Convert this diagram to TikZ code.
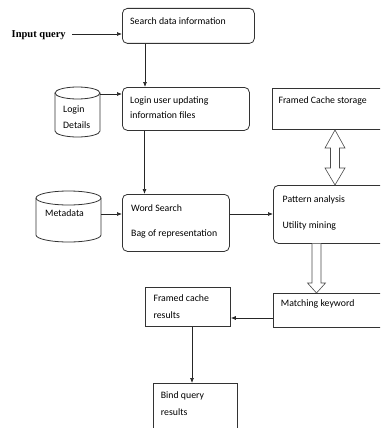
\documentclass[tikz,border=0pt]{standalone}
\usepackage{fontspec}
\setmainfont{Carlito}
\newfontfamily\timesbf{Liberation Serif}
\usetikzlibrary{arrows.meta,calc}
\tikzset{
  box/.style={draw=black!80, line width=0.8pt, anchor=north west, inner sep=0pt},
  rbox/.style={box, rounded corners=5pt},
  txt/.style={anchor=base west, inner sep=0pt, font=\fontsize{9.8pt}{12pt}\selectfont},
  arr/.style={draw=black!85, line width=0.7pt, -{Latex[length=5pt,width=4pt]}},
  hollow/.style={draw=black!70, line width=0.6pt, fill=white},
  cyl/.style={draw=black!80, line width=0.8pt}
}
\begin{document}
\begin{tikzpicture}[x=1pt,y=-1pt]
\useasboundingbox (0,0) rectangle (380,428);
\clip (0,0) rectangle (380,428);
% boxes
\node[rbox, minimum width=132pt, minimum height=35pt] (search) at (122,8) {};
\node[rbox, minimum width=127pt, minimum height=43pt] (login) at (122,87) {};
\node[rbox, minimum width=107pt, minimum height=57pt] (word) at (122,194) {};
\node[rbox, minimum width=112pt, minimum height=58pt] (pattern) at (273,185) {};
\node[box, minimum width=112pt, minimum height=41pt] (storage) at (272,88) {};
\node[box, minimum width=108pt, minimum height=34pt] (match) at (273,293) {};
\node[box, minimum width=85pt, minimum height=39pt] (framed) at (145,287) {};
\node[box, minimum width=84pt, minimum height=60pt] (bind) at (153,383) {};
% cylinders
\node[inner sep=0pt, minimum width=45pt, minimum height=50pt, anchor=north west] (ldet) at (55,87) {};
\draw[cyl] (55,93) -- (55,131) arc[start angle=180, end angle=360, x radius=22.5pt, y radius=6pt] -- (100,93);
\draw[cyl] (77.5,93) ellipse[x radius=22.5pt, y radius=6pt];
\node[inner sep=0pt, minimum width=65pt, minimum height=51pt, anchor=north west] (meta) at (36,191) {};
\draw[cyl] (36,198) -- (36,235) arc[start angle=180, end angle=360, x radius=32.5pt, y radius=7pt] -- (101,198);
\draw[cyl] (68.5,198) ellipse[x radius=32.5pt, y radius=7pt];
% texts
\node[anchor=base west, inner sep=0pt, font=\timesbf\bfseries\fontsize{10.5pt}{12pt}\selectfont] (inq) at (11.5,37.5) {Input query};
\node[txt] (t1) at (130,25) {Search data information};
\node[txt] (t2) at (130,103.5) {Login user updating};
\node[txt] (t3) at (130,118.5) {information files};
\node[txt] (t4) at (63,112.5) {Login};
\node[txt] (t5) at (63,128) {Details};
\node[txt] (t6) at (131,211.5) {Word Search};
\node[txt] (t7) at (131,236.5) {Bag of representation};
\node[txt] (t8) at (45,216.5) {Metadata};
\node[txt] (t9) at (282.5,202.5) {Pattern analysis};
\node[txt] (t10) at (282.5,228.3) {Utility mining};
\node[txt] (t11) at (278.3,103.3) {Framed Cache storage};
\node[txt] (t12) at (280.7,306) {Matching keyword};
\node[txt] (t13) at (153.3,301) {Framed cache};
\node[txt] (t14) at (153.3,318.3) {results};
\node[txt] (t15) at (160.7,398.3) {Bind query};
\node[txt] (t16) at (160.7,415) {results};
% connectors
\coordinate (iq) at (72,34);
\draw[arr] (iq) -- (iq -| search.west);
\draw[arr] ([xshift=23pt]search.south west) -- ([xshift=23pt]login.north west);
\draw[arr] ([yshift=-7pt]ldet.north east) -- ([yshift=-7pt]login.north west);
\draw[arr] ([xshift=22.5pt]login.south west) -- ([xshift=22.5pt]word.north west);
\draw[arr] ([yshift=-23pt]meta.north east) -- ([yshift=-20pt]word.north west);
\draw[arr] ([yshift=-29pt]pattern.north west -| word.east) -- ([yshift=-29pt]pattern.north west);
\draw[arr] ([yshift=-25pt]match.north west) -- ([yshift=-25pt]match.north west -| framed.east);
\draw[arr] ([xshift=47pt]framed.south west) -- ([xshift=39pt]bind.north west);
% hollow arrows
\draw[hollow] (312,243.5) -- (312,283) -- (307.5,283) -- (316.5,293) -- (325.5,283) -- (321,283) -- (321,243.5);
\draw[hollow] (335,130) -- (345,148) -- (339.5,148) -- (339.5,168) -- (345,168) -- (335,185) -- (325,168) -- (330.5,168) -- (330.5,148) -- (325,148) -- cycle;
\end{tikzpicture}
\end{document}
